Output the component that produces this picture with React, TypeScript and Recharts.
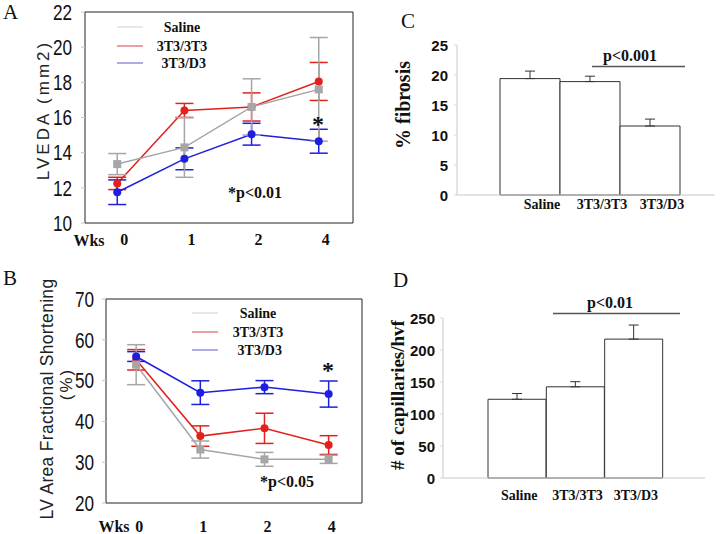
import React from 'react';
import {
  LineChart, Line, BarChart, Bar, XAxis, YAxis, ErrorBar, ReferenceArea, Legend,
} from 'recharts';

// time points (weeks)
const weeks = ['0', '1', '2', '4'];

// A: LVEDA (mm2)
const salineEDA = [13.35, 14.3, 16.6, 17.6];
const salineEDAErr = [0.6, 1.7, 1.6, 2.95];
const ctrlEDA = [12.25, 16.4, 16.6, 18.05];
const ctrlEDAErr = [0.35, 0.4, 0.8, 1.08];
const d3EDA = [11.75, 13.65, 15.05, 14.65];
const d3EDAErr = [0.7, 0.62, 0.62, 0.68];

// B: LV area fractional shortening (%)
const salineFS = [53.9, 33.1, 30.7, 30.7];
const salineFSErr = [4.9, 2.1, 1.7, 1.0];
const ctrlFS = [55.1, 36.4, 38.3, 34.2];
const ctrlFSErr = [2.5, 2.5, 3.7, 2.3];
const d3FS = [55.9, 47.05, 48.4, 46.7];
const d3FSErr = [1.2, 2.9, 1.6, 3.2];

// C / D: bar panels
const groups = ['Saline', '3T3/3T3', '3T3/D3'];
const fibrosis = [19.4, 18.9, 11.5];
const fibrosisErr = [1.25, 0.9, 1.15];
const capillaries = [123, 142.5, 217];
const capillariesErr = [9, 8, 22];

const GRAY = '#a6a6a6';
const RED = '#e3211c';
const BLUE = '#1e1ee0';

const series = [
  { key: 'saline', name: 'Saline', color: GRAY, legend: '#d0d0d0' },
  { key: 'ctrl', name: '3T3/3T3', color: RED, legend: '#d8404a' },
  { key: 'd3', name: ' 3T3/D3', color: BLUE, legend: '#5c5ccc' },
];

const SERIF = '"Liberation Serif", "Times New Roman", serif';
const SANS = '"Liberation Sans", Arial, sans-serif';

const edaData = weeks.map((w, i) => ({
  x: i,
  saline: salineEDA[i], salineErr: salineEDAErr[i],
  ctrl: ctrlEDA[i], ctrlErr: ctrlEDAErr[i],
  d3: d3EDA[i], d3Err: d3EDAErr[i],
}));

const fsData = weeks.map((w, i) => ({
  x: i,
  saline: salineFS[i], salineErr: salineFSErr[i],
  ctrl: ctrlFS[i], ctrlErr: ctrlFSErr[i],
  d3: d3FS[i], d3Err: d3FSErr[i],
}));

const fibrosisData = groups.map((g, i) => ({ name: g, value: fibrosis[i], err: [0, fibrosisErr[i]] }));
const capData = groups.map((g, i) => ({ name: g, value: capillaries[i], err: [0, capillariesErr[i]] }));

// tall, condensed tick numbers of the line panels
const NarrowTick = (props: any) => {
  const { x, y, payload } = props;
  return (
    <g transform={`translate(${x},${y}) scale(0.78,1)`}>
      <text x={0} y={0} textAnchor="end" dominantBaseline="central" fontFamily={SANS} fontSize={22} fill="#111">
        {payload.value}
      </text>
    </g>
  );
};

const weekTick = (dx: number) => (props: any) => {
  const { x, y, payload } = props;
  return (
    <text x={x + dx} y={y} dy="0.71em" textAnchor="middle" fontFamily={SERIF} fontWeight="bold" fontSize={16} fill="#111">
      {weeks[payload.value]}
    </text>
  );
};

const groupTick = (dx: number) => (props: any) => {
  const { x, y, payload } = props;
  return (
    <text x={x + dx} y={y} dy="0.71em" textAnchor="middle" fontFamily={SERIF} fontWeight="bold" fontSize={14} fill="#111">
      {payload.value}
    </text>
  );
};

const boldTick = (props: any) => {
  const { x, y, payload } = props;
  return (
    <text x={x} y={y} textAnchor="end" dominantBaseline="central" fontFamily={SANS} fontWeight="bold" fontSize={15} fill="#111">
      {payload.value}
    </text>
  );
};

const squareDot = (props: any) => (
  <rect key={`sq-${props.index}`} x={props.cx - 4} y={props.cy - 4} width={8} height={8} fill={GRAY} />
);
const circleDot = (color: string) => (props: any) => (
  <circle key={`c-${props.index}`} cx={props.cx} cy={props.cy} r={4} fill={color} />
);

const SeriesLegend = ({ textX, rows }: { textX: number; rows: number[] }) => (
  <svg width={120} height={58}>
    {series.map((s, i) => (
      <g key={s.key}>
        <line x1={7} x2={33} y1={rows[i]} y2={rows[i]} stroke={s.legend} strokeWidth={1} />
        <text x={textX} y={rows[i]} textAnchor="middle" dominantBaseline="central" fontFamily={SERIF}
          fontWeight="bold" fontSize={14} fill="#111" style={{ whiteSpace: 'pre' }}>
          {s.name}
        </text>
      </g>
    ))}
  </svg>
);

// red and blue first so the grey squares sit on top, as in the figure
const drawOrder = ['ctrl', 'd3', 'saline'];

const lineSeries = () =>
  drawOrder.map((k) => {
    const s = series.find((q) => q.key === k)!;
    return (
      <Line key={k} dataKey={k} type="linear" stroke={s.color} strokeWidth={1.5}
        dot={k === 'saline' ? squareDot : circleDot(s.color)} activeDot={false} isAnimationActive={false}>
        <ErrorBar dataKey={`${k}Err`} direction="y" width={9} stroke={s.color} strokeWidth={1.5} />
      </Line>
    );
  });

const PanelA = () => (
  <LineChart width={370} height={260} data={edaData} margin={{ top: 12, right: 17, bottom: 0, left: 0 }}>
    <XAxis type="number" dataKey="x" domain={[-0.48, 3.51]} ticks={[0, 1, 2, 3]} allowDataOverflow
      axisLine={false} tickLine={false} tickSize={0} tickMargin={11} height={37} tick={weekTick(7)} />
    <YAxis type="number" domain={[10, 22]} ticks={[10, 12, 14, 16, 18, 20, 22]} width={85}
      axisLine={false} tickLine={{ stroke: '#c4c4c4' }} tickSize={4} tickMargin={9} tick={NarrowTick} />
    <ReferenceArea x1={-0.48} x2={3.51} y1={10} y2={22} fill="none" stroke="#222" strokeWidth={1} ifOverflow="visible" />
    {lineSeries()}
    <Legend layout="vertical" align="center" verticalAlign="middle"
      wrapperStyle={{ position: 'absolute', left: 110, top: 18, width: 120, height: 58 }}
      content={() => <SeriesLegend textX={72} rows={[9, 28, 45]} />} />
  </LineChart>
);

const PanelB = () => (
  <LineChart width={370} height={284} data={fsData} margin={{ top: 49, right: 8, bottom: 0, left: 0 }}>
    <XAxis type="number" dataKey="x" domain={[-0.47, 3.52]} ticks={[0, 1, 2, 3]} allowDataOverflow
      axisLine={false} tickLine={false} tickSize={0} tickMargin={18} height={31} tick={weekTick(3)} />
    <YAxis type="number" domain={[20, 70]} ticks={[20, 30, 40, 50, 60, 70]} width={106}
      axisLine={false} tickLine={{ stroke: '#c4c4c4' }} tickSize={4} tickMargin={8} tick={NarrowTick} />
    <ReferenceArea x1={-0.47} x2={3.52} y1={20} y2={70} fill="none" stroke="#222" strokeWidth={1} ifOverflow="visible" />
    {lineSeries()}
    <Legend layout="vertical" align="center" verticalAlign="middle"
      wrapperStyle={{ position: 'absolute', left: 185, top: 54, width: 120, height: 58 }}
      content={() => <SeriesLegend textX={73} rows={[9, 28, 46]} />} />
  </LineChart>
);

const PanelC = () => (
  <BarChart width={355} height={240} data={fibrosisData} barCategoryGap={0}
    margin={{ top: 45, right: 10, bottom: 0, left: 0 }}>
    <XAxis dataKey="name" padding={{ left: 43, right: 35 }} height={45} axisLine={{ stroke: '#c8c8c8' }}
      tickLine={false} tickSize={0} tickMargin={4} tick={groupTick(12)} />
    <YAxis domain={[0, 25]} ticks={[0, 5, 10, 15, 20, 25]} width={87} axisLine={{ stroke: '#c8c8c8' }}
      tickLine={{ stroke: '#d8d8d8' }} tickSize={3} tickMargin={6} tick={boldTick} />
    <Bar dataKey="value" fill="#fff" stroke="#333" strokeWidth={1} isAnimationActive={false}>
      <ErrorBar dataKey="err" direction="y" width={5} stroke="#333" strokeWidth={1} />
    </Bar>
  </BarChart>
);

const PanelD = () => (
  <BarChart width={355} height={284} data={capData} barCategoryGap={0}
    margin={{ top: 68, right: 20, bottom: 0, left: 0 }}>
    <XAxis dataKey="name" padding={{ left: 45, right: 42 }} height={56} axisLine={{ stroke: '#c8c8c8' }}
      tickLine={false} tickSize={0} tickMargin={12} tick={groupTick(2)} />
    <YAxis domain={[0, 250]} ticks={[0, 50, 100, 150, 200, 250]} width={73} axisLine={{ stroke: '#c8c8c8' }}
      tickLine={{ stroke: '#d8d8d8' }} tickSize={3} tickMargin={5} tick={boldTick} />
    <Bar dataKey="value" fill="#fff" stroke="#333" strokeWidth={1} isAnimationActive={false}>
      <ErrorBar dataKey="err" direction="y" width={5} stroke="#333" strokeWidth={1} />
    </Bar>
  </BarChart>
);

const txt = { fontFamily: SERIF, fill: '#111' } as const;

// panel letters, axis titles and significance marks
const Annotations = () => (
  <svg width={725} height={534} style={{ position: 'absolute', left: 0, top: 0, pointerEvents: 'none' }}>
    <text x={3} y={19} fontSize={21} {...txt}>A</text>
    <text x={3} y={285} fontSize={21} {...txt}>B</text>
    <text x={401} y={28} fontSize={21} {...txt}>C</text>
    <text x={393} y={287} fontSize={21} {...txt}>D</text>

    <text transform="translate(43,110) rotate(-90)" textAnchor="middle" dominantBaseline="central"
      fontFamily={SANS} fontSize={17} letterSpacing={3} fill="#222">LVEDA (mm2)</text>
    <text transform="translate(47,399) rotate(-90)" textAnchor="middle" dominantBaseline="central"
      fontFamily={SANS} fontSize={17.5} letterSpacing={0.3} fill="#222">LV Area Fractional Shortening</text>
    <text transform="translate(66,384) rotate(-90)" textAnchor="middle" dominantBaseline="central"
      fontFamily={SANS} fontSize={17} letterSpacing={2} fill="#222">(%)</text>
    <text transform="translate(403,105) rotate(-90)" textAnchor="middle" dominantBaseline="central"
      fontSize={20} fontWeight="bold" {...txt}>% fibrosis</text>
    <text transform="translate(397,395) rotate(-90)" textAnchor="middle" dominantBaseline="central"
      fontSize={19} fontWeight="bold" {...txt}># of capillaries/hvf</text>

    <text x={89} y={246} textAnchor="middle" fontSize={16} fontWeight="bold" {...txt}>Wks</text>
    <text x={114} y={532} textAnchor="middle" fontSize={16} fontWeight="bold" {...txt}>Wks</text>

    <text x={318} y={132} textAnchor="middle" fontSize={24} fontWeight="bold" {...txt}>*</text>
    <text x={328} y={378} textAnchor="middle" fontSize={24} fontWeight="bold" {...txt}>*</text>
    <text x={255} y={198} textAnchor="middle" fontSize={16} fontWeight="bold" {...txt}>*p&lt;0.01</text>
    <text x={287} y={487} textAnchor="middle" fontSize={16} fontWeight="bold" {...txt}>*p&lt;0.05</text>

    <text x={630} y={61} textAnchor="middle" fontSize={16} fontWeight="bold" {...txt}>p&lt;0.001</text>
    <line x1={592} x2={685} y1={66.5} y2={66.5} stroke="#555" strokeWidth={1.5} />
    <text x={610} y={308} textAnchor="middle" fontSize={16} fontWeight="bold" {...txt}>p&lt;0.01</text>
    <line x1={553} x2={680} y1={313.5} y2={313.5} stroke="#555" strokeWidth={1.5} />
  </svg>
);

export default function App() {
  return (
    <div style={{ position: 'absolute', left: 0, top: 0, width: 725, height: 534, background: '#fff', overflow: 'hidden' }}>
      <div style={{ position: 'absolute', left: 0, top: 0 }}><PanelA /></div>
      <div style={{ position: 'absolute', left: 0, top: 250 }}><PanelB /></div>
      <div style={{ position: 'absolute', left: 370, top: 0 }}><PanelC /></div>
      <div style={{ position: 'absolute', left: 370, top: 250 }}><PanelD /></div>
      <Annotations />
    </div>
  );
}
